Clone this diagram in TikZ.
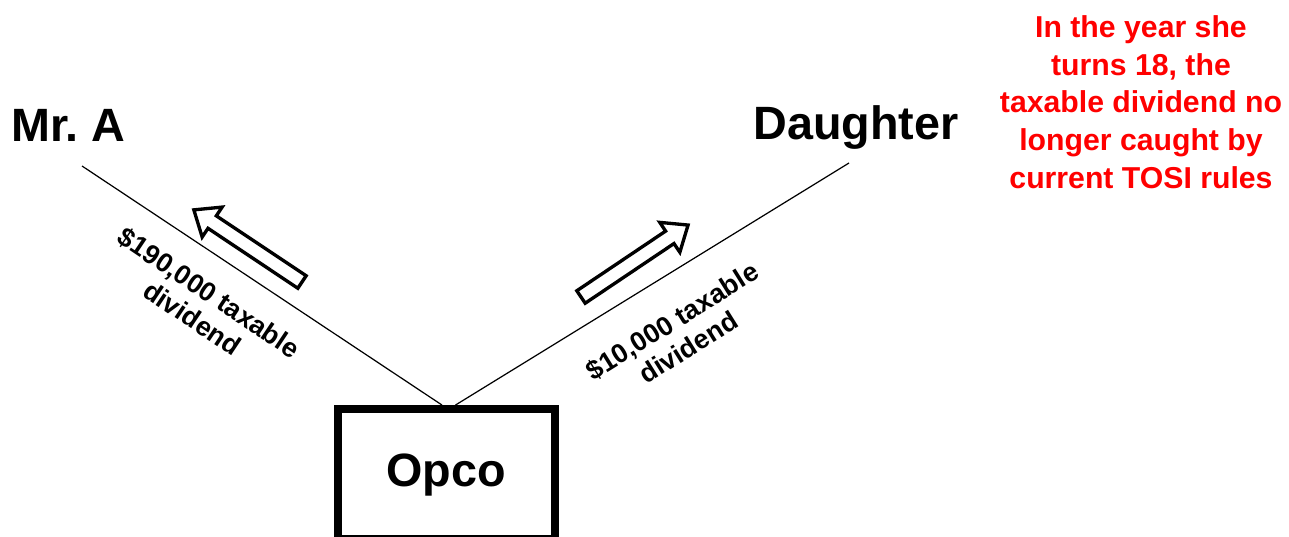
\documentclass[tikz,border=0pt]{standalone}
\usepackage{fontspec}
\setmainfont{Liberation Sans}
\frenchspacing
\begin{document}
\begin{tikzpicture}[x=0.02cm,y=-0.02cm,
  bigname/.style={font=\fontsize{26.6}{30}\selectfont\bfseries, inner sep=0pt},
  lbl/.style={font=\fontsize{15.3}{17.5}\selectfont\bfseries, align=center, inner sep=0pt},
  conn/.style={line width=0.7pt},
  blockarrow/.style={draw, fill=white, line width=1.9pt, line join=miter},
  boxstyle/.style={draw, line width=4.5pt, minimum width=217*0.02cm, minimum height=130*0.02cm, inner sep=0pt}
]
\useasboundingbox (0,0) rectangle (1289,537);
% nodes
\node[bigname, anchor=base] (mra) at (68.5,142) {Mr.\ A};
\node[bigname, anchor=base] (dau) at (856,140) {Daughter};
\node[boxstyle] (opco) at (446.5,474) {};
\node[bigname] (opcotxt) at (446,475) {Opco};
\node[font=\fontsize{17.2}{21.5}\selectfont\bfseries, text=red, align=center, inner sep=0pt] (note) at (1141,102)
  {In the year she\\turns 18, the\\taxable dividend no\\longer caught by\\current TOSI rules};
% connectors
\coordinate (la) at (82,166);
\coordinate (ra) at (849,163);
\coordinate (lb) at ([xshift=-4.5*0.02cm]opco.north);
\coordinate (rb) at ([xshift=9*0.02cm]opco.north);
\draw[conn] (la) -- (lb);
\draw[conn] (ra) -- (rb);
% block arrows
\begin{scope}[shift={(302,282)}, rotate=146.3]
  \draw[blockarrow] (0,-7.5) -- (108,-7.5) -- (108,-18) -- (130,0) -- (108,18) -- (108,7.5) -- (0,7.5) -- cycle;
\end{scope}
\begin{scope}[shift={(581,297)}, rotate=33.9]
  \draw[blockarrow] (0,-7.5) -- (107,-7.5) -- (107,-18) -- (129,0) -- (107,18) -- (107,7.5) -- (0,7.5) -- cycle;
\end{scope}
% labels
\node[lbl, rotate=-33.8] (l1) at (201,305) {\$190,000 taxable\\dividend};
\node[lbl, rotate=32] (l2) at (680,334) {\$10,000 taxable\\dividend};
\end{tikzpicture}
\end{document}
